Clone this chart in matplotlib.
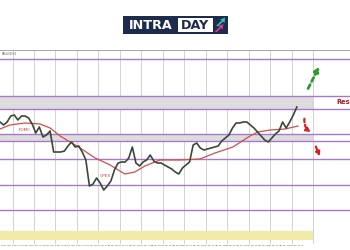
import matplotlib
matplotlib.use('Agg')
import matplotlib.pyplot as plt
from matplotlib.patches import Rectangle, Polygon

# ---- data (H4 closes) ----
close = [2364.0, 2362.5, 2364.0, 2367.0, 2367.5, 2365.0, 2367.0, 2367.0, 2366.0, 2363.0,
         2358.5, 2361.5, 2356.5, 2357.5, 2359.5, 2349.0, 2349.0, 2349.0, 2349.5, 2352.0,
         2354.0, 2351.5, 2352.0, 2349.0, 2345.0, 2332.0, 2333.0, 2336.0, 2333.5, 2330.0,
         2332.0, 2334.5, 2340.0, 2343.5, 2344.0, 2344.0, 2346.0, 2351.5, 2343.5, 2342.0,
         2344.0, 2345.0, 2347.5, 2344.5, 2343.5, 2343.5, 2342.5, 2341.5, 2340.5, 2339.0,
         2338.0, 2341.0, 2342.5, 2344.0, 2352.5, 2353.5, 2351.0, 2350.0, 2350.5, 2351.0,
         2351.5, 2352.0, 2354.5, 2356.0, 2357.5, 2361.0, 2363.5, 2363.5, 2364.0, 2364.0,
         2362.5, 2361.0, 2359.0, 2357.0, 2355.0, 2354.0, 2356.0, 2358.0, 2359.5, 2364.0,
         2361.0, 2364.0, 2367.5, 2371.5]
ma_x = [0, 2.8, 7.0, 11.2, 14.0, 16.8, 22.4, 26.6, 30.8, 34.9, 37.7, 40.5, 44.7, 50.3,
        55.9, 60.1, 65.1, 69.9, 72.1, 75.5, 79.7, 83.3]
ma_y = [2360.5, 2362.5, 2363.5, 2363.0, 2361.0, 2357.0, 2351.0, 2346.0, 2342.5, 2338.0,
        2339.0, 2342.0, 2345.0, 2345.0, 2345.5, 2348.5, 2351.5, 2357.0, 2359.0, 2360.0,
        2360.5, 2362.0]
levels = [2395.7, 2376.9, 2370.5, 2358.0, 2354.3, 2345.3, 2332.5, 2319.8]
zones = [(2370.5, 2376.9), (2354.3, 2358.0)]
demand_zone = (2305.0, 2309.5)
days = [6, 7, 8, 9, 10, 13, 14, 15, 16, 17, 20, 21, 22, 23, 24]
events = [("FOMC", 7.0, 2360.0), ("OPEX", 29.4, 2337.0)]

fig = plt.figure(figsize=(3.5, 2.5), dpi=100)
fig.patch.set_facecolor('white')

ax = fig.add_axes([0, 6/250, 1, 194/250])
bars_per_day = 6
chart_end = 3.5 + bars_per_day * 14
ax.set_xlim(0, 97.85)
ax.set_ylim(2303, 2400)

# vertical day grid
for k in range(15):
    ax.axvline(3.5 + bars_per_day * k, color='#cccccc', lw=0.6, zorder=1)

# zones
for lo, hi in zones:
    ax.add_patch(Rectangle((0, lo), chart_end, hi - lo, facecolor='#dcdcdc',
                           edgecolor='none', zorder=1.5))
ax.add_patch(Rectangle((0, demand_zone[0]), chart_end, demand_zone[1] - demand_zone[0],
                       facecolor='#f1eaa8', edgecolor='none', zorder=1.5))
for lv in levels:
    ax.axhline(lv, color='#a878cc', lw=1.0, zorder=2)

# price + MA
ax.plot(range(len(close)), close, color='#3a4838', lw=1.2, zorder=4)
ax.plot(ma_x, ma_y, color='#d0504a', lw=0.9, zorder=3)

for name, xx, yy in events:
    ax.text(xx, yy, name, color='#d03a30', fontsize=3, ha='center', va='center', zorder=5)

# scenario arrows
ax.annotate('', xy=(89.6, 2393.0), xytext=(85.8, 2379.5),
            arrowprops=dict(arrowstyle='-|>', color='#2e9a2e', lw=2.0, ls=(0, (1.6, 1.2)),
                            mutation_scale=7))
ax.annotate('', xy=(87.5, 2358.0), xytext=(85.2, 2367.0),
            arrowprops=dict(arrowstyle='-|>', color='#d82020', lw=1.6, ls=(0, (1.6, 1.2)),
                            mutation_scale=6, connectionstyle='arc3,rad=0.35'))
ax.annotate('', xy=(89.7, 2345.5), xytext=(88.0, 2353.0),
            arrowprops=dict(arrowstyle='-|>', color='#d82020', lw=1.6, ls=(0, (1.6, 1.2)),
                            mutation_scale=6))
ax.text(94.0, 2374.0, 'Res', color='#b01818', fontsize=4.8, fontweight='bold',
        ha='left', va='center')

# axes styling
for s in ['left', 'right', 'bottom']:
    ax.spines[s].set_visible(False)
ax.spines['top'].set_color('#999999')
ax.spines['top'].set_linewidth(0.6)
ax.set_yticks([])
ticks, labels = [], []
for i, d in enumerate(days[:14]):
    ticks += [0.3 + bars_per_day * i, 3.3 + bars_per_day * i]
    labels += [f'{d} May 2024', f'{d} May 12:00']
ax.set_xticks(ticks)
ax.set_xticklabels(labels, fontsize=1.3, color='#555555', ha='left')
ax.tick_params(axis='x', length=0, pad=1)
ax.text(0.5, 2399.0, 'XAUUSD,H4', fontsize=1.8, color='#555555', va='top')

# logo
W, H = 350, 250
def fx(x): return x / W
def fy(y): return 1 - y / H
fig.patches.append(Rectangle((fx(122.7), fy(34.3)), (227.7 - 122.7) / W, (34.3 - 15.7) / H,
                             transform=fig.transFigure, facecolor='#1d2b4c', edgecolor='none'))
fig.patches.append(Rectangle((fx(177.5), fy(32.0)), (213 - 177.5) / W, (32 - 18) / H,
                             transform=fig.transFigure, facecolor='white', edgecolor='none'))
fig.text(fx(151.0), fy(25.3), 'INTRA', color='white', fontsize=9.2, fontweight='bold',
         ha='center', va='center')
fig.text(fx(195.3), fy(25.3), 'DAY', color='#1d2b4c', fontsize=9.2, fontweight='bold',
         ha='center', va='center')
fig.patches.append(Polygon([(fx(216), fy(26)), (fx(222), fy(20)), (fx(219.5), fy(20)),
                            (fx(225), fy(17.5)), (fx(224.5), fy(23)), (fx(223), fy(21.5)),
                            (fx(218.5), fy(26))], closed=True, transform=fig.transFigure,
                           facecolor='#27c6b4', edgecolor='none'))
fig.patches.append(Polygon([(fx(214.5), fy(32)), (fx(220), fy(26.5)), (fx(217.5), fy(26.5)),
                            (fx(223.5), fy(24)), (fx(222.5), fy(29.5)), (fx(221), fy(28)),
                            (fx(217), fy(32))], closed=True, transform=fig.transFigure,
                           facecolor='#e03590', edgecolor='none'))

fig.savefig('out.png', dpi=100, facecolor='white')
